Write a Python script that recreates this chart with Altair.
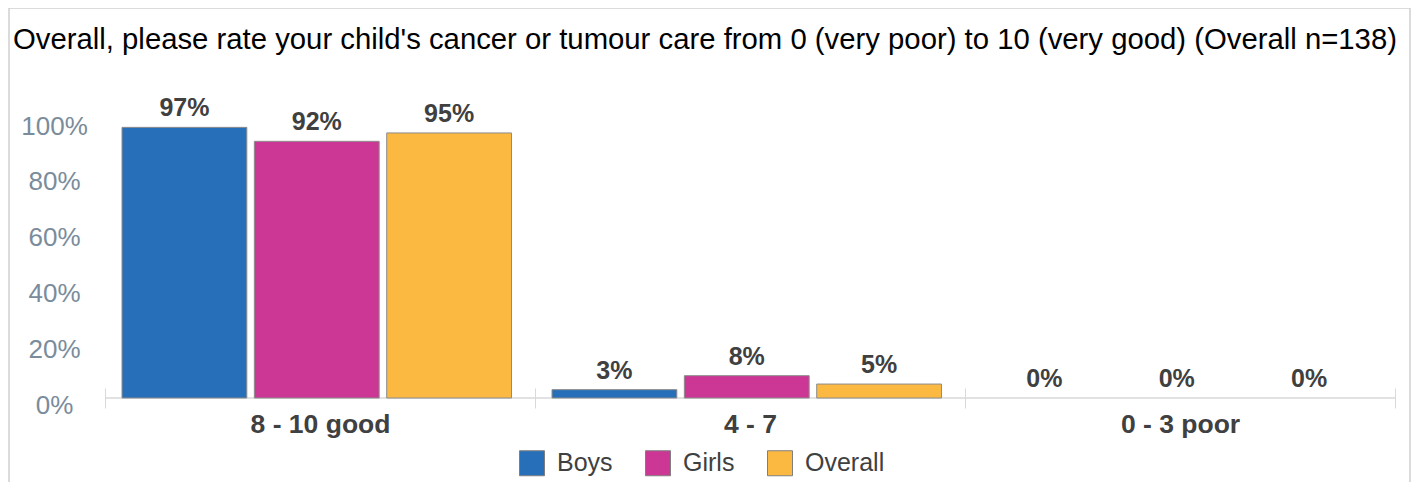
import altair as alt
import pandas as pd

categories = ["8 - 10 good", "4 - 7", "0 - 3 poor"]
series = ["Boys", "Girls", "Overall"]
boys = [97, 3, 0]
girls = [92, 8, 0]
overall = [95, 5, 0]
colors = ["#2770B9", "#CC3694", "#FBB942"]
question = "Overall, please rate your child's cancer or tumour care from 0 (very poor) to 10 (very good) (Overall n=138)"

rows = []
for i, c in enumerate(categories):
    for s, vals in zip(series, [boys, girls, overall]):
        rows.append({"category": c, "series": s, "value": vals[i], "label": f"{vals[i]}%"})
df = pd.DataFrame(rows)

W, H = 1290, 279
FONT = "Liberation Sans"

base = alt.Chart(df)

x_enc = alt.X(
    "category:N",
    sort=categories,
    scale=alt.Scale(paddingInner=0, paddingOuter=0),
    axis=alt.Axis(
        title=None,
        labelAngle=0,
        labelFontSize=26.5,
        labelFontWeight="bold",
        labelColor="#404040",
        labelPadding=3,
        tickBand="extent",
        tickSize=20,
        tickColor="#d9d9d9",
        offset=-10,
        domain=False,
        grid=False,
    ),
)
xo_enc = alt.XOffset(
    "series:N",
    sort=series,
    scale=alt.Scale(paddingInner=0.057, paddingOuter=0.153, align=0.42),
)
y_enc = alt.Y(
    "value:Q",
    scale=alt.Scale(domain=[0, 100], nice=False),
    axis=alt.Axis(
        title=None,
        values=[0, 20, 40, 60, 80, 100],
        labelExpr="datum.value + '%'",
        labelFontSize=26,
        labelColor="#7A8C9B",
        labelAlign="center",
        labelBaseline="middle",
        labelPadding=51,
        labelOffset=7,
        ticks=False,
        domain=False,
        grid=False,
    ),
)

bars = base.mark_bar(stroke="#8c8c8c", strokeWidth=1).encode(
    x=x_enc,
    xOffset=xo_enc,
    y=y_enc,
    color=alt.Color(
        "series:N",
        sort=series,
        scale=alt.Scale(domain=series, range=colors),
        legend=alt.Legend(
            orient="none",
            legendX=414,
            legendY=331,
            direction="horizontal",
            title=None,
            symbolType="square",
            symbolSize=625,
            symbolStrokeColor="#7f7f7f",
            symbolStrokeWidth=1,
            symbolOpacity=1,
            labelFontSize=25,
            labelColor="#404040",
            labelOffset=12,
            columnPadding=30,
            padding=0,
        ),
    ),
).transform_filter(alt.datum.value > 0)

labels = base.mark_text(
    baseline="alphabetic", dy=-11, fontSize=25, fontWeight="bold", color="#404040"
).encode(
    x=alt.X("category:N", sort=categories),
    xOffset=alt.XOffset("series:N", sort=series),
    y=alt.Y("value:Q"),
    text="label:N",
)

baseline = alt.Chart(alt.Data(values=[{"v": 0}])).mark_rule(
    color="#d9d9d9", strokeWidth=1.5
).encode(y=alt.Y("v:Q"))

one = alt.Data(values=[{"t": question}])
frame = alt.Chart(one).mark_rect(
    fillOpacity=0, stroke="#d0d0d0", strokeWidth=1.5
).encode(
    x=alt.value(-96), x2=alt.value(1305), y=alt.value(-111), y2=alt.value(500)
)
title = alt.Chart(one).mark_text(
    align="left", baseline="alphabetic", fontSize=29.3, color="#000000"
).encode(x=alt.value(-92), y=alt.value(-70), text="t:N")

chart = (
    alt.layer(frame, title, baseline, bars, labels)
    .properties(
        width=W,
        height=H,
        padding={"left": 97, "top": 111, "right": 16, "bottom": 84},
        autosize=alt.AutoSizeParams(type="none"),
    )
    .configure(font=FONT)
    .configure_view(stroke=None)
)

chart.save("out.html", embed_options={"renderer": "svg", "actions": False})
